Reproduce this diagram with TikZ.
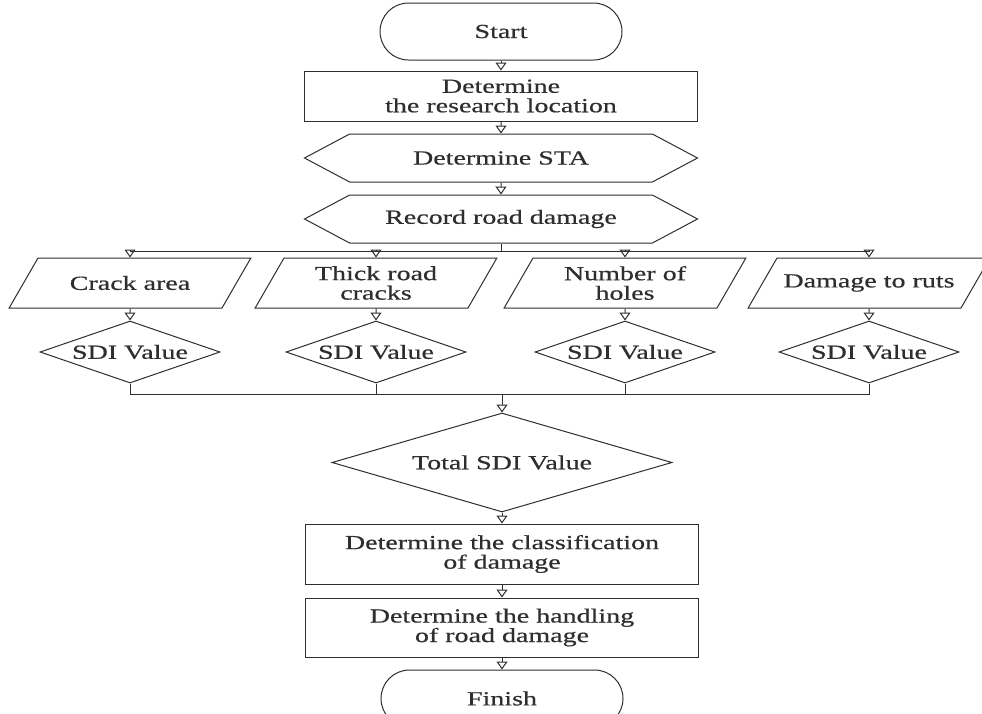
\documentclass[tikz,border=0pt]{standalone}
\usepackage{fontspec}
\setmainfont{Liberation Serif}[FakeStretch=1.4, FakeBold=0.6]
\usetikzlibrary{arrows.meta, positioning, shapes.geometric, shapes.misc, shapes.symbols}
\definecolor{ink}{HTML}{2E2E2E}

\begin{document}
\begin{tikzpicture}[x=1pt, y=1pt]
	\tikzset{
		base/.style={
			draw=ink,
			text=ink,
			line width=1pt,
			inner sep=0pt,
			font=\fontsize{20}{19.5}\selectfont
		},
		terminal/.style={base, align=center, rounded rectangle, minimum width=242pt, minimum height=57pt},
		process/.style={base, align=center, rectangle, minimum width=393pt, minimum height=50pt},
		prep/.style={base, align=center, signal, signal to=west and east, signal pointer angle=56,
			minimum width=393pt, minimum height=48pt},
		data/.style={base, trapezium, trapezium left angle=60, trapezium right angle=120,
			execute at begin node={\begin{minipage}[c][50pt][c]{184pt}\centering},
			execute at end node={\end{minipage}}},
		decision/.style={base, align=center, diamond, aspect=2.9, minimum width=180pt, minimum height=62pt},
		flow/.style={draw=ink, line width=1pt, -{Triangle[open, length=8pt, width=11pt]}},
		link/.style={draw=ink, line width=1pt},
	}
	\useasboundingbox (0,0) rectangle (982,-713);

	% main column
	\node[terminal] (start) at (501,-31.5) {Start};
	\node[process, below=10pt of start] (loc) {Determine\\the research location};
	\node[prep, below=12pt of loc] (sta) {Determine STA};
	\node[prep, below=12pt of sta] (rec) {Record road damage};

	% four kinds of damage
	\node[data] (crack) at (130,-283) {Crack area};
	\node[data] (thick) at (376,-283) {Thick road\\cracks};
	\node[data] (holes) at (625,-283) {Number of\\holes};
	\node[data] (ruts) at (869,-283) {Damage to ruts};

	\node[decision, below=12pt of crack] (sdi1) {SDI Value};
	\node[decision, below=12pt of thick] (sdi2) {SDI Value};
	\node[decision, below=12pt of holes] (sdi3) {SDI Value};
	\node[decision, below=12pt of ruts] (sdi4) {SDI Value};

	\node[decision, aspect=3.4, minimum width=340pt, minimum height=99pt] (total) at (502,-462.5) {Total SDI Value};
	\node[process, minimum height=60pt, below=11pt of total] (class) {Determine the classification\\of damage};
	\node[process, minimum height=59pt, below=13pt of class] (handle) {Determine the handling\\of road damage};
	\node[terminal, below=12pt of handle] (finish) {Finish};

	\coordinate (split) at ([yshift=-8pt]rec.south);
	\coordinate (join) at ([yshift=18pt]total.north);

	\path[every edge/.style=flow]
	(start) edge (loc)
	(loc) edge (sta)
	(sta) edge (rec)
	(split -| crack.north) edge (crack.north)
	(split -| thick.north) edge (thick.north)
	(split -| holes.north) edge (holes.north)
	(split -| ruts.north) edge (ruts.north)
	(crack) edge (sdi1)
	(thick) edge (sdi2)
	(holes) edge (sdi3)
	(ruts) edge (sdi4)
	(join) edge (total.north)
	(total) edge (class)
	(class) edge (handle)
	(handle) edge (finish);

	\draw[link] (rec.south) -- (split);
	\draw[link] (split -| crack.north) -- (split -| ruts.north);
	\draw[link] (sdi1.south) -- (sdi1.south |- join) -- (sdi4.south |- join) -- (sdi4.south);
	\draw[link] (sdi2.south) -- (sdi2.south |- join);
	\draw[link] (sdi3.south) -- (sdi3.south |- join);
\end{tikzpicture}
\end{document}
